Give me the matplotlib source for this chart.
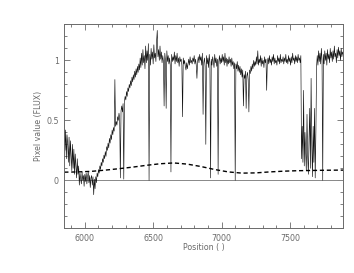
import numpy as np
import matplotlib
matplotlib.use("Agg")
import matplotlib.pyplot as plt
from matplotlib.ticker import MultipleLocator

# spectrum, 5 A steps from 5850 to 7890 (one row = 100 A)
wave_start = 5850
wave_step = 5
flux = [
    0.50, 0.25, 0.42, 0.18, 0.38, 0.30, 0.15, 0.36, 0.12, 0.33, 0.20, 0.08, 0.30, 0.10, 0.26, 0.05, 0.22, 0.12, 0.02, 0.18,
    0.05, 0.12, -0.04, 0.06, 0.01, -0.03, 0.07, 0.00, 0.04, -0.05, 0.05, -0.01, 0.06, -0.03, 0.03, 0.07, -0.02, 0.04, -0.06, 0.02,
    0.04, -0.04, 0.03, -0.12, 0.01, -0.07, 0.03, -0.02, 0.06, 0.03, 0.09, 0.06, 0.12, 0.09, 0.15, 0.12, 0.18, 0.15, 0.21, 0.18,
    0.24, 0.20, 0.28, 0.25, 0.31, 0.27, 0.35, 0.31, 0.38, 0.34, 0.42, 0.38, 0.44, 0.41, 0.84, 0.45, 0.49, 0.46, 0.53, 0.50,
    0.56, 0.52, 0.02, 0.58, 0.62, 0.57, 0.64, 0.01, 0.66, 0.70, 0.67, 0.74, 0.70, 0.77, 0.74, 0.80, 0.77, 0.83, 0.79, 0.86,
    0.82, 0.88, 0.84, 0.91, 0.86, 0.93, 0.88, 0.95, 0.90, 0.97, 0.92, 1.02, 0.94, 1.06, 0.96, 1.09, 0.98, 1.04, 0.93, 1.12,
    0.98, 1.08, 1.00, 1.14, 0.00, 1.05, 0.96, 1.10, 1.01, 1.07, 0.97, 1.13, 1.02, 1.06, 0.99, 1.16, 1.25, 1.03, 1.09, 1.00,
    1.12, 1.01, 1.07, 0.98, 1.04, 0.99, 0.62, 1.06, 1.00, 0.60, 1.08, 0.99, 1.04, 0.97, 1.02, 0.96, 0.07, 1.05, 0.99, 1.03,
    1.00, 1.07, 0.97, 1.04, 0.99, 1.06, 0.98, 1.02, 0.95, 1.03, 0.99, 1.01, 0.96, 0.53, 1.02, 0.97, 1.00, 0.95, 0.92, 0.98,
    0.93, 0.97, 1.01, 0.96, 1.03, 0.98, 1.00, 0.97, 1.02, 0.99, 1.04, 0.97, 1.01, 0.96, 0.85, 0.99, 1.03, 0.98, 1.05, 1.00,
    1.03, 0.96, 1.06, 0.55, 0.98, 1.02, 0.95, 0.30, 1.04, 0.97, 1.02, 0.94, 1.05, 0.98, 0.02, 1.01, 0.96, 1.03, 0.99, 0.94,
    1.05, 0.98, 1.02, 0.95, 1.01, 0.05, 0.99, 1.04, 0.97, 1.02, 0.98, 1.05, 0.99, 1.03, 0.96, 1.06, 0.98, 1.02, 0.95, 1.01,
    0.97, 1.03, 0.98, 1.01, 0.95, 1.02, 0.96, 0.99, 0.93, 0.98, 0.00, 0.97, 0.93, 0.99, 0.91, 0.96, 0.90, 0.95, 0.88, 0.93,
    0.86, 0.92, 0.62, 0.88, 0.85, 0.91, 0.60, 0.87, 0.90, 0.84, 0.57, 0.92, 0.89, 0.95, 0.91, 0.97, 0.93, 1.00, 0.95, 0.99,
    0.96, 1.03, 0.97, 1.08, 0.96, 1.01, 0.98, 1.04, 0.95, 1.02, 0.97, 1.00, 0.94, 1.03, 0.98, 1.01, 0.75, 0.99, 1.02, 0.97,
    1.04, 0.98, 1.01, 0.96, 1.03, 0.99, 1.05, 0.97, 1.02, 0.98, 1.00, 0.96, 1.04, 0.99, 1.02, 0.97, 1.05, 0.98, 1.01, 0.99,
    1.03, 0.97, 1.02, 0.99, 1.05, 0.98, 1.01, 0.97, 1.04, 0.99, 1.02, 0.96, 1.03, 0.98, 1.06, 1.00, 1.02, 0.97, 1.04, 0.99,
    1.03, 0.98, 1.05, 1.00, 1.02, 0.98, 1.04, 0.18, 0.45, 0.15, 0.75, 0.12, 0.40, 0.25, 0.08, 0.55, 0.20, 0.05, 0.35, 0.60,
    0.10, 0.85, 0.30, 0.03, 0.45, 0.15, 0.60, 0.02, 0.40, 0.95, 1.04, 0.96, 1.08, 0.99, 1.06, 0.97, 1.10, 1.00, 0.00, 1.05,
    0.97, 1.08, 1.00, 1.06, 0.96, 1.09, 1.01, 1.05, 0.98, 1.10, 1.02, 1.07, 0.99, 1.08, 1.01, 1.12, 1.03, 1.06, 0.98, 1.09,
    1.02, 1.11, 1.04, 1.08, 1.00, 1.10, 1.03, 1.07, 1.05,
]

# smooth dashed curve
fit_wave = [5850, 5950, 6050, 6150, 6250, 6350, 6450, 6550, 6650, 6750,
            6850, 6950, 7050, 7150, 7250, 7350, 7450, 7550, 7650, 7750,
            7850, 7890]
fit_flux = [0.068, 0.070, 0.075, 0.085, 0.097, 0.110, 0.125, 0.138, 0.145, 0.135,
            0.115, 0.090, 0.070, 0.060, 0.062, 0.070, 0.076, 0.080, 0.082, 0.084,
            0.085, 0.085]

wave = wave_start + wave_step * np.arange(len(flux))

grey = '#6a6a6a'
fs = 5.7

fig = plt.figure(figsize=(3.54, 2.73), dpi=100)
ax = fig.add_axes([0.1816, 0.1637, 0.788, 0.747])

ax.axhline(0, color='#888888', lw=0.7)
ax.plot(wave, flux, color='#111111', lw=0.45)
ax.plot(fit_wave, fit_flux, color='black', lw=1.0, dashes=(3, 2))

ax.set_xlim(5850, 7890)
ax.set_ylim(-0.4, 1.3)

ax.xaxis.set_major_locator(MultipleLocator(500))
ax.xaxis.set_minor_locator(MultipleLocator(100))
ax.yaxis.set_major_locator(MultipleLocator(0.5))
ax.yaxis.set_minor_locator(MultipleLocator(0.1))
ax.yaxis.set_major_formatter(plt.FuncFormatter(lambda v, p: '%g' % v))

ax.tick_params(which='both', direction='in', top=True, right=True,
               colors=grey, labelsize=fs, width=0.6)
ax.tick_params(which='major', length=4, pad=4)
ax.tick_params(which='minor', length=2)
for s in ax.spines.values():
    s.set_color(grey)
    s.set_linewidth(0.7)

ax.set_xlabel('Position ( )', fontsize=fs, color=grey)
ax.set_ylabel('Pixel value (FLUX)', fontsize=fs, color=grey)
ax.xaxis.set_label_coords(0.5, -0.07)
ax.yaxis.set_label_coords(-0.075, 0.5)

fig.savefig('out.png', dpi=100)
